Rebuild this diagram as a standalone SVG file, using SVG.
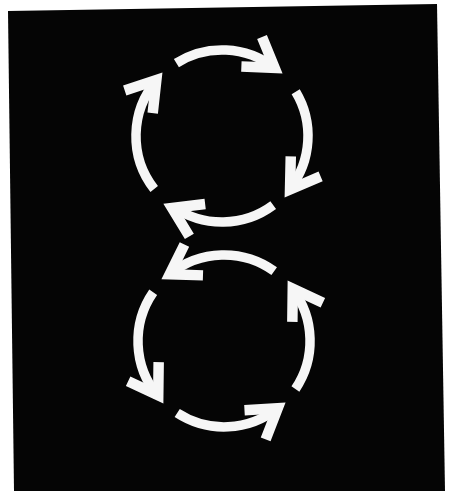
<svg xmlns="http://www.w3.org/2000/svg" xmlns:xlink="http://www.w3.org/1999/xlink" width="452" height="491" viewBox="0 0 452 491">
  <style>
    .arc { fill: none; stroke: #f6f6f6; stroke-width: 9.5; stroke-linecap: butt; }
    .head { fill: none; stroke: #f6f6f6; stroke-width: 10.5; stroke-linecap: butt; stroke-linejoin: miter; stroke-miterlimit: 4; }
  </style>
  <defs>
    <polyline id="hd" class="head" points="-37,-18 -9,0 -37,18"/>
  </defs>
  <rect x="0" y="0" width="452" height="491" fill="#ffffff"/>
  <polygon id="panel" points="8,11 437,4 445,491 14,491" fill="#050505"/>

  <g id="connectors">
    <g id="upper-cycle">
      <g id="u1">
        <path class="arc" d="M176.4,63.1 A86,86 0 0 1 274.5,67.9"/>
        <use xlink:href="#hd" href="#hd" transform="translate(282,73) rotate(35)"/>
      </g>
      <g id="u2">
        <path class="arc" d="M295.7,91.7 A86,86 0 0 1 289.8,188.9"/>
        <use xlink:href="#hd" href="#hd" transform="translate(285,197) rotate(124)"/>
      </g>
      <g id="u3">
        <path class="arc" d="M273.2,205.1 A86,86 0 0 1 173.3,206.9"/>
        <use xlink:href="#hd" href="#hd" transform="translate(164,204) rotate(206)"/>
      </g>
      <g id="u4">
        <path class="arc" d="M154.2,189.0 A86,86 0 0 1 156.5,80.3"/>
        <use xlink:href="#hd" href="#hd" transform="translate(162,73) rotate(-51)"/>
      </g>
    </g>
    <g id="lower-cycle">
      <g id="l1">
        <path class="arc" d="M274.2,271.2 A86,86 0 0 0 169.9,274.2"/>
        <use xlink:href="#hd" href="#hd" transform="translate(162,279) rotate(149)"/>
      </g>
      <g id="l2">
        <path class="arc" d="M153.2,292.2 A86,86 0 0 0 157.6,395.7"/>
        <use xlink:href="#hd" href="#hd" transform="translate(163,403) rotate(58)"/>
      </g>
      <g id="l3">
        <path class="arc" d="M177.2,413.1 A86,86 0 0 0 277.5,408.3"/>
        <use xlink:href="#hd" href="#hd" transform="translate(285,403) rotate(-36)"/>
      </g>
      <g id="l4">
        <path class="arc" d="M295.4,389.0 A86,86 0 0 0 292.7,289.2"/>
        <use xlink:href="#hd" href="#hd" transform="translate(288,281) rotate(-122)"/>
      </g>
    </g>
  </g>
</svg>
